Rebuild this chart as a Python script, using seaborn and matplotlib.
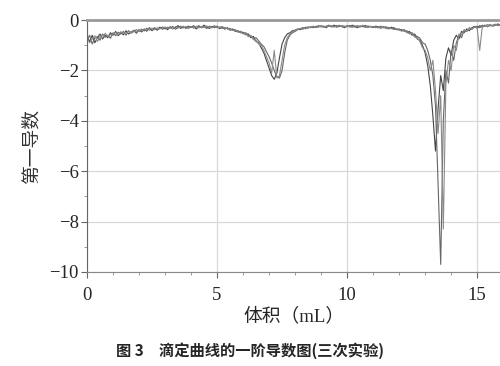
import numpy as np
import pandas as pd
import matplotlib
matplotlib.use('Agg')
import matplotlib.pyplot as plt
import seaborn as sns
from matplotlib.ticker import MultipleLocator

# volume grid (mL), one reading every 0.1 mL
volume = np.round(np.arange(0, 16.0, 0.1), 1)

# first derivative, run 1
run1 = [-0.65, -0.85, -0.6, -0.9, -0.7, -0.55, -0.75, -0.6, -0.7, -0.5,
        -0.6, -0.45, -0.62, -0.5, -0.58, -0.42, -0.55, -0.48, -0.4, -0.52,
        -0.38, -0.47, -0.35, -0.44, -0.3, -0.42, -0.33, -0.4, -0.28, -0.36,
        -0.3, -0.38, -0.26, -0.34, -0.29, -0.22, -0.33, -0.27, -0.31, -0.24,
        -0.3, -0.22, -0.35, -0.26, -0.3, -0.2, -0.28, -0.33, -0.25, -0.3,
        -0.24, -0.34, -0.28, -0.36, -0.3, -0.4, -0.35, -0.45, -0.42, -0.5,
        -0.48, -0.58, -0.55, -0.7, -0.65, -0.85, -0.9, -1.1, -1.3, -1.6,
        -1.9, -2.2, -2.35, -2.1, -1.5, -0.95, -0.7, -0.55, -0.5, -0.42,
        -0.4, -0.35, -0.38, -0.3, -0.33, -0.27, -0.3, -0.25, -0.29, -0.22,
        -0.27, -0.24, -0.3, -0.22, -0.26, -0.2, -0.28, -0.23, -0.25, -0.3,
        -0.22, -0.27, -0.2, -0.25, -0.3, -0.23, -0.26, -0.21, -0.28, -0.25,
        -0.3, -0.24, -0.27, -0.32, -0.26, -0.3, -0.35, -0.28, -0.33, -0.38,
        -0.35, -0.42, -0.38, -0.5, -0.45, -0.6, -0.55, -0.75, -0.8, -1.0,
        -1.3, -1.8, -2.6, -3.8, -5.2, -3.5, -2.2, -2.8, -1.5, -1.1,
        -1.4, -0.8, -0.6, -0.75, -0.45, -0.5, -0.35, -0.42, -0.3, -0.25,
        -0.32, -0.22, -0.28, -0.2, -0.26, -0.18, -0.24, -0.2, -0.15, -0.22]

# run 2
run2 = [-0.8, -0.6, -0.95, -0.7, -0.65, -0.8, -0.55, -0.68, -0.6, -0.72,
        -0.5, -0.62, -0.48, -0.55, -0.45, -0.6, -0.42, -0.5, -0.46, -0.38,
        -0.45, -0.36, -0.43, -0.32, -0.4, -0.35, -0.3, -0.38, -0.33, -0.27,
        -0.35, -0.28, -0.32, -0.25, -0.36, -0.3, -0.24, -0.31, -0.26, -0.33,
        -0.25, -0.32, -0.27, -0.22, -0.3, -0.26, -0.33, -0.24, -0.29, -0.22,
        -0.3, -0.27, -0.32, -0.29, -0.35, -0.33, -0.4, -0.38, -0.46, -0.44,
        -0.52, -0.5, -0.6, -0.62, -0.72, -0.7, -0.82, -0.95, -1.05, -1.25,
        -1.45, -1.7, -2.0, -2.25, -2.3, -2.0, -1.3, -0.8, -0.6, -0.5,
        -0.45, -0.38, -0.33, -0.36, -0.28, -0.32, -0.26, -0.3, -0.24, -0.28,
        -0.22, -0.26, -0.24, -0.2, -0.27, -0.25, -0.21, -0.26, -0.22, -0.24,
        -0.27, -0.21, -0.24, -0.28, -0.22, -0.26, -0.24, -0.29, -0.23, -0.27,
        -0.25, -0.3, -0.28, -0.24, -0.31, -0.27, -0.3, -0.34, -0.3, -0.36,
        -0.4, -0.37, -0.45, -0.42, -0.52, -0.5, -0.62, -0.65, -0.72, -0.9,
        -0.95, -1.2, -1.6, -2.2, -3.4, -6.5, -9.7, -4.0, -2.0, -2.5,
        -1.2, -1.6, -0.9, -0.6, -0.7, -0.4, -0.45, -0.32, -0.36, -0.28,
        -0.24, -0.3, -0.2, -0.25, -0.18, -0.23, -0.2, -0.17, -0.22, -0.16]

# run 3
run3 = [-0.7, -0.9, -0.75, -0.62, -0.85, -0.65, -0.7, -0.52, -0.65, -0.58,
        -0.55, -0.5, -0.58, -0.46, -0.52, -0.5, -0.44, -0.52, -0.42, -0.47,
        -0.4, -0.42, -0.36, -0.39, -0.35, -0.32, -0.38, -0.3, -0.35, -0.31,
        -0.27, -0.33, -0.3, -0.35, -0.26, -0.31, -0.28, -0.24, -0.34, -0.28,
        -0.27, -0.29, -0.24, -0.31, -0.26, -0.3, -0.23, -0.28, -0.31, -0.26,
        -0.28, -0.3, -0.25, -0.32, -0.34, -0.37, -0.41, -0.4, -0.48, -0.47,
        -0.55, -0.53, -0.66, -0.6, -0.78, -0.8, -0.95, -1.0, -1.2, -1.45,
        -1.7, -2.1, -1.2, -2.3, -2.2, -1.6, -1.0, -0.7, -0.55, -0.45,
        -0.42, -0.36, -0.34, -0.29, -0.35, -0.3, -0.28, -0.24, -0.3, -0.26,
        -0.24, -0.29, -0.26, -0.25, -0.22, -0.28, -0.24, -0.2, -0.27, -0.25,
        -0.24, -0.26, -0.29, -0.22, -0.25, -0.28, -0.2, -0.25, -0.3, -0.24,
        -0.28, -0.27, -0.31, -0.29, -0.27, -0.34, -0.31, -0.33, -0.38, -0.34,
        -0.38, -0.44, -0.4, -0.48, -0.55, -0.52, -0.68, -0.7, -0.85, -1.1,
        -1.2, -1.5, -2.0, -1.6, -2.8, -4.5, -3.0, -8.3, -2.5, -1.6,
        -2.0, -1.0, -1.2, -0.55, -0.6, -0.38, -0.45, -0.3, -0.35, -0.27,
        -0.3, -1.2, -0.25, -0.2, -0.27, -0.19, -0.23, -0.16, -0.21, -0.18]

runs = {'1': run1, '2': run2, '3': run3}
df = pd.concat([pd.DataFrame({'volume': volume, 'deriv': v, 'run': k})
                for k, v in runs.items()], ignore_index=True)

sns.set_style('white')
plt.rcParams['font.family'] = ['Liberation Serif', 'Noto Sans CJK SC']
plt.rcParams['axes.unicode_minus'] = True

fig = plt.figure(figsize=(5, 3.66), dpi=100)
ax = fig.add_axes([0.174, 0.257, 0.826, 0.688])

sns.lineplot(data=df, x='volume', y='deriv', hue='run', estimator=None,
             palette=['#444444', '#666666', '#8a8a8a'], linewidth=0.8,
             legend=False, ax=ax)

ax.set_xlim(0, 15.88)
ax.set_ylim(-10, 0)
ax.xaxis.set_major_locator(MultipleLocator(5))
ax.xaxis.set_minor_locator(MultipleLocator(1))
ax.yaxis.set_major_locator(MultipleLocator(2))
ax.yaxis.set_minor_locator(MultipleLocator(1))
ax.grid(True, which='major', color='#d8d8d8', linewidth=0.9)
ax.set_axisbelow(True)

ax.spines['right'].set_visible(False)
ax.spines['top'].set_color('#999999')
ax.spines['top'].set_linewidth(2)
ax.spines['left'].set_color('#666666')
ax.spines['bottom'].set_color('#888888')
ax.spines['left'].set_linewidth(0.8)
ax.spines['bottom'].set_linewidth(0.8)

ax.tick_params(which='major', direction='out', length=4, width=0.8,
               color='#666666', labelsize=13.5, pad=2)
ax.tick_params(which='minor', direction='out', length=2.5, width=0.6,
               color='#888888')
ax.tick_params(axis='x', which='major', pad=7)
ax.tick_params(axis='y', which='both', left=True)
ax.tick_params(axis='x', which='both', bottom=True)

ax.set_xlabel('体积（mL）', fontsize=13.5, labelpad=2)
ax.set_ylabel('第一导数', fontsize=13.5, labelpad=6, color='#333333')

fig.text(0.5, 0.043, '图 3　滴定曲线的一阶导数图(三次实验)', ha='center',
         va='center', fontsize=11, fontweight='bold',
         family=['Noto Sans CJK SC'])

fig.savefig('out.png', dpi=100)
